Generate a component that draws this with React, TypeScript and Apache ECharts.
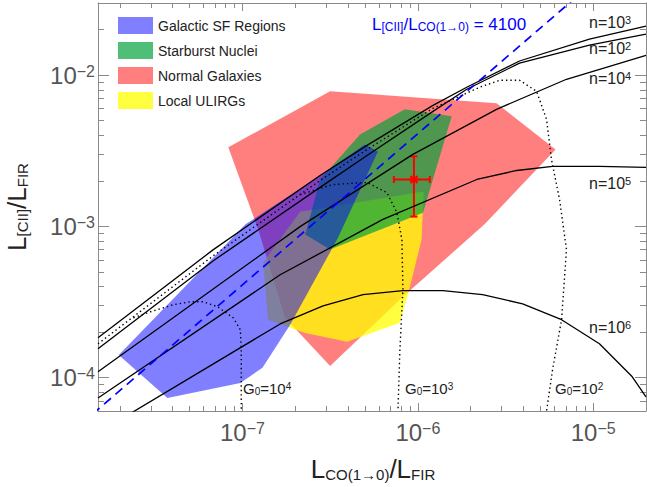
import React, { useEffect, useRef } from 'react';
import * as echarts from 'echarts';

// ---------- axis ranges and tick labels ----------
const X_MIN = 1.5e-8;
const X_MAX = 2e-5;
const Y_MIN = 6e-5;
const Y_MAX = 3e-2;
const X_MAJOR_EXP = [-7, -6, -5];
const Y_MAJOR_EXP = [-4, -3, -2];

// ---------- observed regions (polygons) ----------
const REGION_NAMES = ['Galactic SF Regions', 'Starburst Nuclei', 'Normal Galaxies', 'Local ULIRGs'];
const REGION_LEGEND_COLORS = ['#7f7fff', '#4fbf77', '#ff7f7f', '#ffff40'];

const normalGalaxies: [number, number][] = [
  [8.3e-8, 3.33e-3], [3.16e-7, 7.82e-3], [2.81e-6, 6.51e-3], [6.1e-6, 3.22e-3],
  [2.4e-6, 1.03e-3], [8.22e-7, 3.42e-4], [3.16e-7, 1.19e-4], [1.75e-7, 2.48e-4], [1.23e-7, 9.51e-4],
];
const localULIRGs: [number, number][] = [
  [1.31e-7, 5.75e-4], [2.13e-7, 1.25e-3], [1.08e-6, 1.7e-3], [1.05e-6, 8.16e-4],
  [9.01e-7, 3.98e-4], [7.9e-7, 2.3e-4], [3.95e-7, 1.72e-4], [2.28e-7, 1.97e-4], [1.4e-7, 2.41e-4],
];
const starburstNuclei: [number, number][] = [
  [8.43e-7, 5.94e-3], [1.56e-6, 5.34e-3], [1.07e-6, 1.23e-3], [3.16e-7, 7.01e-4],
  [2.28e-7, 8.81e-4], [2.77e-7, 2.04e-3], [4.68e-7, 4.05e-3],
];
const galacticSF: [number, number][] = [
  [1.97e-8, 1.41e-4], [1.04e-7, 1.03e-3], [2.77e-7, 2.17e-3], [4.99e-7, 3.48e-3],
  [5.92e-7, 3.13e-3], [3.51e-7, 8.42e-4], [1.87e-7, 2.23e-4], [1.3e-7, 1.16e-4],
  [9.72e-8, 9.2e-5], [3.73e-8, 7.32e-5],
];

// ---------- PDR model curves: constant density n ----------
const n1e2: [number, number][] = [
  [1.5e-8, 1.55e-4], [6.82e-8, 5.92e-4], [2.77e-7, 1.81e-3], [5.13e-7, 2.94e-3], [1.22e-6, 5.76e-3],
  [1.9e-6, 8.06e-3], [3.8e-6, 1.2e-2], [9.52e-6, 1.58e-2], [2e-5, 1.87e-2],
];
const n1e3: [number, number][] = [
  [1.5e-8, 1.83e-4], [6.82e-8, 7.01e-4], [2.77e-7, 2.17e-3], [5.13e-7, 3.43e-3], [1.22e-6, 6.31e-3],
  [1.9e-6, 8.31e-3], [3.8e-6, 1.24e-2], [9.52e-6, 1.73e-2], [2e-5, 2.11e-2],
];
const n1e4: [number, number][] = [
  [1.5e-8, 1.09e-4], [2.13e-7, 9.95e-4], [9.37e-7, 2.99e-3], [2.81e-6, 5.94e-3], [7.04e-6, 9.39e-3], [2e-5, 1.35e-2],
];
const n1e5: [number, number][] = [
  [1.5e-8, 7.32e-5], [1.64e-7, 4.78e-4], [6.32e-7, 1.11e-3], [2.17e-6, 2.04e-3], [3.66e-6, 2.34e-3],
  [5.86e-6, 2.49e-3], [1.085e-5, 2.49e-3], [2e-5, 2.45e-3],
];
const n1e6: [number, number][] = [
  [1.5e-8, 4.3e-5], [1.64e-7, 2.26e-4], [2.88e-7, 2.98e-4], [4.87e-7, 3.53e-4], [8.22e-7, 3.75e-4],
  [1.39e-6, 3.75e-4], [2.34e-6, 3.53e-4], [3.96e-6, 3.07e-4], [6.6e-6, 2.41e-4], [1.085e-5, 1.67e-4],
  [1.67e-5, 1.01e-4], [2e-5, 7.43e-5],
];

// ---------- PDR model curves: constant G0 (dotted) ----------
const g1e4: [number, number][] = [
  [2.39e-8, 2.48e-4], [2.99e-8, 2.72e-4], [4.04e-8, 3.03e-4], [5.05e-8, 3.17e-4], [5.98e-8, 3.17e-4],
  [7.19e-8, 2.94e-4], [8.86e-8, 2.48e-4], [9.72e-8, 2.07e-4], [9.84e-8, 1.52e-4], [9.84e-8, 6e-5],
];
const g1e3: [number, number][] = [
  [2.13e-7, 1.62e-3], [3.28e-7, 1.89e-3], [5.13e-7, 1.95e-3], [6.66e-7, 1.67e-3], [7.6e-7, 1.23e-3],
  [8.11e-7, 8.16e-4], [8.22e-7, 3.81e-4], [7.9e-7, 1.52e-4], [7.7e-7, 6e-5],
];
const g1e2: [number, number][] = [
  [1.5e-8, 1.67e-4], [6.82e-8, 6.39e-4], [2.77e-7, 2.01e-3], [5.13e-7, 3.22e-3], [1.22e-6, 6.03e-3],
  [2.25e-6, 8.31e-3], [2.93e-6, 9.25e-3], [3.8e-6, 9.25e-3], [4.75e-6, 7.82e-3], [5.42e-6, 5.1e-3],
  [5.78e-6, 2.77e-3], [6.43e-6, 1.5e-3], [7.04e-6, 7.01e-4], [6.6e-6, 2.41e-4], [5.86e-6, 1.12e-4], [5.42e-6, 6e-5],
];

// ---------- constant ratio line L[CII]/LCO = 4100 ----------
const CII_CO_RATIO = 4100;
const RATIO_LINE_X = [1.4e-8, 8e-6];

// ---------- measured point with error bars ----------
const POINT = { x: 9.5e-7, xLow: 7.3e-7, xHigh: 1.17e-6, y: 2.04e-3, yLow: 1.16e-3, yHigh: 2.9e-3 };

// ---------------------------------------------------------------
const FONT = '"Liberation Sans", Arial, sans-serif';
const lg = Math.log10;
const LX0 = lg(X_MIN), LX1 = lg(X_MAX), LY0 = lg(Y_MIN), LY1 = lg(Y_MAX);
const AXIS_COLOR = '#8a8a8a';
const LABEL_COLOR = '#555';
const TEXT_COLOR = '#222';

function minorTicks(lo: number, hi: number) {
  const out: number[] = [];
  for (let e = Math.floor(lo); e <= Math.ceil(hi); e++) {
    for (let k = 2; k <= 9; k++) {
      const v = e + Math.log10(k);
      if (v > lo && v < hi) out.push(v);
    }
  }
  return out;
}

const tickRich = {
  b: { fontSize: 24, lineHeight: 24, fontFamily: FONT, color: LABEL_COLOR },
  s: { fontSize: 16, lineHeight: 12, fontFamily: FONT, color: LABEL_COLOR, verticalAlign: 'top' },
};
const tickFormatter = (v: number) => `{b|10}{s|\u2212${Math.round(-v)}}`;

function axisDef(dim: 'x' | 'y', position: string, major: boolean, labels: boolean) {
  const isX = dim === 'x';
  const majors = isX ? X_MAJOR_EXP : Y_MAJOR_EXP;
  const minors = isX ? minorTicks(LX0, LX1) : minorTicks(LY0, LY1);
  return {
    type: 'value',
    min: isX ? LX0 : LY0,
    max: isX ? LX1 : LY1,
    position,
    axisLine: { show: major, onZero: false, lineStyle: { color: AXIS_COLOR, width: 1 } },
    axisTick: {
      show: true,
      inside: true,
      length: major ? (isX ? 8 : 11) : (isX ? 5 : 6),
      customValues: major ? majors : minors,
      lineStyle: { color: AXIS_COLOR, width: 1 },
    },
    axisLabel: labels
      ? { show: true, customValues: majors, formatter: tickFormatter, rich: tickRich, margin: isX ? 9 : 3 }
      : { show: false },
    splitLine: { show: false },
    silent: true,
  };
}

function polygonSeries(name: string, pts: [number, number][], fill: string, legendColor: string) {
  return {
    type: 'custom',
    name,
    data: [[lg(pts[0][0]), lg(pts[0][1])]],
    itemStyle: { color: legendColor },
    silent: true,
    clip: true,
    renderItem: (_p: any, api: any) => ({
      type: 'polygon',
      shape: { points: pts.map(([x, y]) => api.coord([lg(x), lg(y)])) },
      style: { fill, stroke: 'none' },
    }),
  };
}

function lineSeries(pts: [number, number][], dotted: boolean) {
  return {
    type: 'line',
    data: pts.map(([x, y]) => [lg(x), lg(y)]),
    showSymbol: false,
    symbol: 'none',
    silent: true,
    clip: true,
    lineStyle: { color: '#000', width: dotted ? 1.4 : 1.3, type: dotted ? [1.4, 3] : 'solid' },
  };
}

function text(x: number, y: number, t: string, rich: any, opts: any = {}) {
  return {
    type: 'text',
    x,
    y,
    rotation: opts.rotation || 0,
    silent: true,
    style: {
      text: t,
      rich,
      fill: opts.fill || TEXT_COLOR,
      font: `16px ${FONT}`,
      align: opts.align || 'left',
      verticalAlign: 'middle',
      textAlign: opts.align || 'left',
      textVerticalAlign: 'middle',
    },
  };
}

function mkRich(main: number, sub: number, color: string) {
  return {
    m: { fontSize: main, lineHeight: main, fontFamily: FONT, fill: color, color },
    sb: { fontSize: sub, lineHeight: Math.round(sub * 0.65), fontFamily: FONT, fill: color, color, verticalAlign: 'bottom' },
    sp: { fontSize: sub, lineHeight: Math.round(sub * 0.6), fontFamily: FONT, fill: color, color, verticalAlign: 'top' },
  };
}

const N_LABELS = [
  { exp: '3', y: 22 },
  { exp: '2', y: 48 },
  { exp: '4', y: 78 },
  { exp: '5', y: 183 },
  { exp: '6', y: 327 },
];
const G_LABELS = [
  { exp: '4', x: 243 },
  { exp: '3', x: 405 },
  { exp: '2', x: 555 },
];

export default function App() {
  const ref = useRef<HTMLDivElement>(null);
  useEffect(() => {
    const chart = echarts.init(ref.current!, null, { renderer: 'svg' });
    const nRich = mkRich(16, 11, TEXT_COLOR);
    const gRich = mkRich(15, 10, TEXT_COLOR);
    const titleRich = mkRich(26, 15, TEXT_COLOR);
    const blueRich = mkRich(17, 12, '#0000ff');

    const errSeries = {
      type: 'custom',
      silent: true,
      clip: true,
      data: [[lg(POINT.x), lg(POINT.y), lg(POINT.xLow), lg(POINT.xHigh), lg(POINT.yLow), lg(POINT.yHigh)]],
      renderItem: (_p: any, api: any) => {
        const c = api.coord([api.value(0), api.value(1)]);
        const l = api.coord([api.value(2), api.value(1)]);
        const r = api.coord([api.value(3), api.value(1)]);
        const b = api.coord([api.value(0), api.value(4)]);
        const t = api.coord([api.value(0), api.value(5)]);
        const st = { stroke: '#ff0000', lineWidth: 2 };
        const cap = 3.5;
        const ln = (x1: number, y1: number, x2: number, y2: number) => ({ type: 'line', shape: { x1, y1, x2, y2 }, style: st });
        const children: any[] = [
          ln(l[0], l[1], r[0], r[1]),
          ln(b[0], b[1], t[0], t[1]),
          ln(l[0], l[1] - cap, l[0], l[1] + cap),
          ln(r[0], r[1] - cap, r[0], r[1] + cap),
          ln(b[0] - cap, b[1], b[0] + cap, b[1]),
          ln(t[0] - cap, t[1], t[0] + cap, t[1]),
        ];
        for (let a = 0; a < 180; a += 45) {
          const rad = (a * Math.PI) / 180;
          const dx = Math.cos(rad) * 5, dy = Math.sin(rad) * 5;
          children.push(ln(c[0] - dx, c[1] - dy, c[0] + dx, c[1] + dy));
        }
        children.push({ type: 'circle', shape: { cx: c[0], cy: c[1], r: 2.5 }, style: { fill: '#ff0000' } });
        return { type: 'group', children };
      },
    };

    const ratioSeries = {
      type: 'line',
      data: RATIO_LINE_X.map((x) => [lg(x), lg(CII_CO_RATIO * x)]),
      showSymbol: false,
      symbol: 'none',
      silent: true,
      clip: true,
      lineStyle: { color: '#0000ff', width: 1.7, type: [9, 6] },
    };

    const graphics: any[] = [
      ...N_LABELS.map((d) => text(589, d.y, `{m|n=10}{sp|${d.exp}}`, nRich)),
      ...G_LABELS.map((d) => text(d.x, 388.5, `{m|G}{sb|0}{m|=10}{sp|${d.exp}}`, gRich)),
      text(372, 24, '{m|L}{sb|[CII]}{m|/L}{sb|CO(1\u21920)}{m| = 4100}', blueRich, { fill: '#0000ff' }),
      text(373, 469, '{m|L}{sb|CO(1\u21920)}{m|/L}{sb|FIR}', titleRich, { align: 'center' }),
      text(17, 207, '{m|L}{sb|[CII]}{m|/L}{sb|FIR}', titleRich, { align: 'center', rotation: Math.PI / 2 }),
    ];

    chart.setOption({
      animation: false,
      backgroundColor: '#fff',
      grid: { left: 98, right: 1, top: 3, bottom: 76 },
      xAxis: [
        axisDef('x', 'bottom', true, true),
        axisDef('x', 'bottom', false, false),
        axisDef('x', 'top', true, false),
        axisDef('x', 'top', false, false),
      ],
      yAxis: [
        axisDef('y', 'left', true, true),
        axisDef('y', 'left', false, false),
        axisDef('y', 'right', true, false),
        axisDef('y', 'right', false, false),
      ],
      legend: {
        show: true,
        orient: 'vertical',
        left: 118,
        top: 17,
        padding: 0,
        itemWidth: 35,
        itemHeight: 17,
        itemGap: 8,
        selectedMode: false,
        textStyle: { fontSize: 14, color: TEXT_COLOR, fontFamily: FONT },
        data: REGION_NAMES.map((name, i) => ({ name, icon: 'rect', itemStyle: { color: REGION_LEGEND_COLORS[i] } })),
      },
      series: [
        polygonSeries(REGION_NAMES[2], normalGalaxies, 'rgba(255,0,0,0.5)', REGION_LEGEND_COLORS[2]),
        polygonSeries(REGION_NAMES[3], localULIRGs, 'rgba(255,255,0,0.75)', REGION_LEGEND_COLORS[3]),
        polygonSeries(REGION_NAMES[1], starburstNuclei, 'rgba(0,162,58,0.69)', REGION_LEGEND_COLORS[1]),
        polygonSeries(REGION_NAMES[0], galacticSF, 'rgba(0,0,255,0.5)', REGION_LEGEND_COLORS[0]),
        lineSeries(n1e2, false),
        lineSeries(n1e3, false),
        lineSeries(n1e4, false),
        lineSeries(n1e5, false),
        lineSeries(n1e6, false),
        lineSeries(g1e4, true),
        lineSeries(g1e3, true),
        lineSeries(g1e2, true),
        ratioSeries,
        errSeries,
      ],
      graphic: graphics,
    });
    return () => chart.dispose();
  }, []);
  return <div ref={ref} style={{ position: 'absolute', left: 0, top: 0, width: 647, height: 487 }} />;
}
